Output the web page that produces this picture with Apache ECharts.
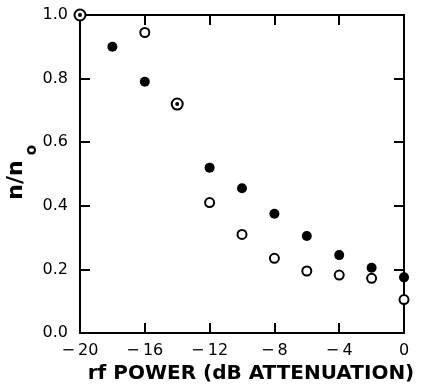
<!DOCTYPE html>
<html>
<head>
<meta charset="utf-8">
<script src="https://cdn.jsdelivr.net/npm/echarts@6/dist/echarts.min.js"></script>
<style>html,body{margin:0;padding:0;background:#fff}#c{width:428px;height:390px}</style>
</head>
<body>
<div id="c"></div>
<script>
// filled circles
var filledX = [-20, -18, -16, -14, -12, -10, -8, -6, -4, -2, 0];
var filledY = [1.00, 0.90, 0.79, 0.72, 0.52, 0.455, 0.375, 0.305, 0.245, 0.205, 0.175];
// open circles
var openX = [-20, -16, -14, -12, -10, -8, -6, -4, -2, 0];
var openY = [1.00, 0.945, 0.72, 0.41, 0.31, 0.235, 0.195, 0.182, 0.172, 0.105];

var xTicks = [-20, -16, -12, -8, -4, 0];
var yTicks = [0.0, 0.2, 0.4, 0.6, 0.8, 1.0];
var xTitle = 'rf POWER (dB ATTENUATION)';
var yTitleMain = 'n/n';
var yTitleSub = 'o';

var FONT = 'DejaVu Sans';

function pairs(xs, ys) { return xs.map(function (x, i) { return [x, ys[i]]; }); }
var filledData = pairs(filledX, filledY);
var openData = pairs(openX, openY);

function coincident(p, other) {
  return other.some(function (q) { return q[0] === p[0] && Math.abs(q[1] - p[1]) < 1e-9; });
}

function axisLine() { return { show: true, onZero: false, lineStyle: { color: '#000', width: 2 } }; }
function tick() { return { show: true, inside: true, length: 10, lineStyle: { color: '#000', width: 2 } }; }

var chart = echarts.init(document.getElementById('c'), null, { renderer: 'canvas' });
chart.setOption({
  animation: false,
  backgroundColor: '#fff',
  grid: { left: 80, right: 24, top: 15, bottom: 57, outerBoundsMode: 'none', containLabel: false },
  xAxis: [{
    type: 'value', min: xTicks[0], max: xTicks[xTicks.length - 1], interval: 4, position: 'bottom',
    axisLine: axisLine(), axisTick: tick(), splitLine: { show: false },
    axisLabel: {
      color: '#000', fontFamily: FONT, fontSize: 16, margin: 10,
      formatter: function (v) { return v < 0 ? '\u2212\u2009' + Math.abs(v) : String(v); }
    },
    name: xTitle, nameLocation: 'middle', nameGap: 27,
    nameTextStyle: { color: '#000', fontFamily: FONT, fontSize: 20, fontWeight: 'bold', padding: [0, 0, 0, 18] }
  }, {
    type: 'value', min: xTicks[0], max: xTicks[xTicks.length - 1], interval: 4, position: 'top',
    axisLine: axisLine(), axisTick: tick(), axisLabel: { show: false }, splitLine: { show: false }
  }],
  yAxis: [{
    type: 'value', min: yTicks[0], max: yTicks[yTicks.length - 1], interval: 0.2, position: 'left',
    axisLine: axisLine(), axisTick: tick(), splitLine: { show: false },
    axisLabel: {
      color: '#000', fontFamily: FONT, fontSize: 16, margin: 12,
      formatter: function (v) { return v.toFixed(1); }
    }
  }, {
    type: 'value', min: yTicks[0], max: yTicks[yTicks.length - 1], interval: 0.2, position: 'right',
    axisLine: axisLine(), axisTick: tick(), axisLabel: { show: false }, splitLine: { show: false }
  }],
  graphic: [{
    type: 'text', x: 16, y: 180, rotation: Math.PI / 2,
    style: { text: yTitleMain, fill: '#000', font: 'bold 22px "DejaVu Sans"', align: 'center', verticalAlign: 'middle' }
  }, {
    type: 'text', x: 32, y: 150, rotation: Math.PI / 2,
    style: { text: yTitleSub, fill: '#000', font: 'bold 15px "DejaVu Sans"', align: 'center', verticalAlign: 'middle' }
  }],
  series: [{
    type: 'scatter', name: 'open', data: openData, z: 2, clip: false,
    symbol: 'circle',
    symbolSize: function (v) { return coincident(v, filledData) ? 11 : 9; },
    itemStyle: { color: '#fff', borderColor: '#000', borderWidth: 2, opacity: 1 }
  }, {
    type: 'scatter', name: 'filled', data: filledData, z: 3, clip: false,
    symbol: 'circle',
    symbolSize: function (v) { return coincident(v, openData) ? 4 : 10; },
    itemStyle: { color: '#000', opacity: 1 }
  }]
});
</script>
</body>
</html>
